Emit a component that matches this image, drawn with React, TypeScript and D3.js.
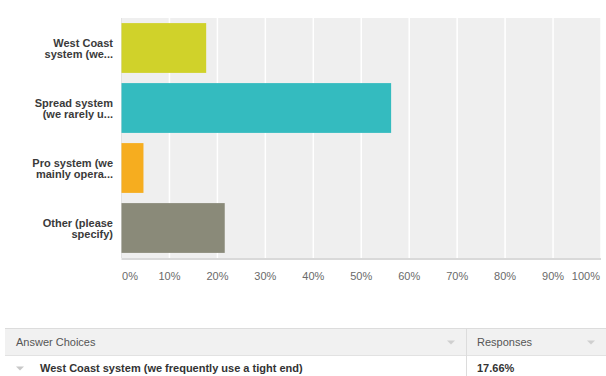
import React from "react";
import * as d3 from "d3";

const categories = [
  ["West Coast", "system (we..."],
  ["Spread system", "(we rarely u..."],
  ["Pro system (we", "mainly opera..."],
  ["Other (please", "specify)"],
];
const values = [17.66, 56.23, 4.58, 21.53];
const colors = ["#d0d22a", "#34bbbf", "#f6ad1f", "#8a8a79"];
const ticks = [0, 10, 20, 30, 40, 50, 60, 70, 80, 90, 100];
const tableHeader = ["Answer Choices", "Responses"];
const tableRow = ["West Coast system (we frequently use a tight end)", "17.66%"];

export default function App() {
  const W = 606, H = 376;
  const left = 121.5, right = 601, top = 18, bottom = 258;
  const x = d3.scaleLinear().domain([0, 100]).range([left, right]);
  const y = d3
    .scaleBand<number>()
    .domain(d3.range(categories.length))
    .range([top, bottom])
    .paddingInner(0.17)
    .paddingOuter(0.085);
  const font = "Arial, 'Liberation Sans', sans-serif";
  return (
    <svg
      width={W}
      height={H}
      style={{ position: "absolute", left: 0, top: 0, fontFamily: font }}
    >
      <rect x={0} y={0} width={W} height={H} fill="#fff" />
      <rect x={left} y={top} width={right - left} height={bottom - top} fill="#efefef" />
      {ticks.slice(1).map((t) => (
        <line key={t} x1={x(t)} x2={x(t)} y1={top} y2={bottom} stroke="#fff" strokeWidth={1.5} />
      ))}
      <line x1={left} x2={left} y1={top} y2={bottom} stroke="#e2e2e2" strokeWidth={1} />
      {values.map((v, i) => (
        <rect
          key={i}
          x={x(0)}
          y={y(i)}
          width={x(v) - x(0)}
          height={y.bandwidth()}
          fill={colors[i]}
        />
      ))}
      <line x1={left} x2={right} y1={bottom + 1} y2={bottom + 1} stroke="#d9d9d9" strokeWidth={2} />
      {ticks.map((t, i) => (
        <text
          key={t}
          x={i === 0 ? x(t) + 0.5 : i === ticks.length - 1 ? x(t) - 1 : x(t)}
          y={280}
          fontSize={11}
          fill="#6a6a6a"
          textAnchor={i === 0 ? "start" : i === ticks.length - 1 ? "end" : "middle"}
        >
          {t}%
        </text>
      ))}
      {categories.map((lines, i) => {
        const c = (y(i) as number) + y.bandwidth() / 2;
        return (
          <text key={i} textAnchor="end" fontSize={11} fontWeight="bold" fill="#3a3a3a">
            <tspan x={113} y={c - 1.3}>{lines[0]}</tspan>
            <tspan x={113} y={c + 9.5}>{lines[1]}</tspan>
          </text>
        );
      })}
      {/* table */}
      <rect x={5} y={328} width={W - 5} height={27} fill="#f1f1f1" />
      <line x1={5} x2={W} y1={328.5} y2={328.5} stroke="#dcdcdc" />
      <line x1={5} x2={W} y1={355.5} y2={355.5} stroke="#e2e2e2" />
      <line x1={466.5} x2={466.5} y1={328} y2={H} stroke="#dcdcdc" />
      <text x={16} y={345.5} fontSize={11} fill="#555">{tableHeader[0]}</text>
      <text x={477} y={345.5} fontSize={11} fill="#555">{tableHeader[1]}</text>
      <path d="M447,340.5 L455,340.5 L451,344.5 Z" fill="#cfcfcf" />
      <path d="M587,340.5 L595,340.5 L591,344.5 Z" fill="#cfcfcf" />
      <path d="M16,366.5 L24,366.5 L20,370.5 Z" fill="#c8c8c8" />
      <text x={40} y={371.5} fontSize={11} fontWeight="bold" fill="#333">{tableRow[0]}</text>
      <text x={477} y={371.5} fontSize={11} fontWeight="bold" fill="#333">{tableRow[1]}</text>
    </svg>
  );
}
